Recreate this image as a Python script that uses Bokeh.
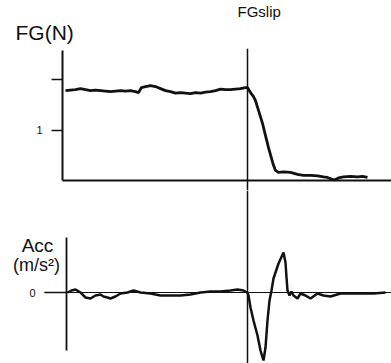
from bokeh.plotting import figure
from bokeh.models import Range1d, LinearAxis, FixedTicker, Span, Label, Title
from bokeh.layouts import column
from bokeh.embed import file_html
from bokeh.resources import INLINE

# ---- data (time in ms relative to slip onset) ----
fg_t = [-910, -885, -860, -835, -810, -785, -760, -735, -710, -685, -660, -635, -610, -585,
        -560, -545, -530, -510, -485, -460, -435, -410, -385, -360, -335, -310, -285, -260,
        -235, -210, -185, -160, -135, -110, -85, -60, -35, -10, 0, 15, 30, 40, 55, 75, 90,
        105, 120, 130, 140, 155, 180, 215, 250, 280, 315, 350, 380, 400, 420, 435, 455,
        480, 515, 550, 575, 600]
fg_v = [1.78, 1.79, 1.80, 1.82, 1.80, 1.78, 1.79, 1.78, 1.77, 1.76, 1.77, 1.78, 1.77, 1.78,
        1.76, 1.74, 1.84, 1.86, 1.88, 1.86, 1.82, 1.78, 1.76, 1.73, 1.74, 1.73, 1.72, 1.74,
        1.73, 1.75, 1.76, 1.78, 1.81, 1.80, 1.80, 1.81, 1.82, 1.84, 1.84, 1.74, 1.66, 1.58,
        1.39, 1.13, 0.89, 0.65, 0.44, 0.30, 0.20, 0.16, 0.17, 0.16, 0.12, 0.10, 0.10, 0.09,
        0.07, 0.06, 0.03, 0.01, 0.05, 0.07, 0.08, 0.07, 0.08, 0.06]

acc_t = [-900, -880, -860, -835, -810, -785, -760, -735, -720, -700, -685, -660, -635, -600,
         -570, -535, -485, -435, -385, -335, -285, -235, -185, -135, -85, -50, -20, 0, 5, 15,
         30, 50, 65, 80, 90, 100, 110, 120, 130, 155, 180, 190, 195, 200, 210, 220, 230, 250,
         265, 290, 315, 350, 380, 415, 465, 515, 565, 630, 690]
acc_v = [0.0, 0.2, 0.3, 0.0, -0.5, -0.6, -0.3, -0.2, -0.4, -0.5, -0.6, -0.4, -0.1, 0.0,
         0.2, 0.0, -0.1, -0.3, -0.3, -0.3, -0.2, 0.0, 0.1, 0.1, 0.2, 0.3, 0.2, 0.0, -0.3, -1.5,
         -2.8, -4.3, -5.8, -6.8, -5.5, -2.8, -0.8, 0.2, 1.4, 2.9, 4.0, 3.0, 1.5, 0.2, -0.3, 0.1,
         -0.3, -0.6, -0.1, -0.3, -0.6, -0.1, -0.3, -0.4, -0.1, -0.1, -0.1, -0.1, 0.0]

fg_ticks = [1, 2]
fg_tick_labels = {1: "1"}
acc_ticks = [0]
acc_tick_labels = {0: "0"}

FONT = "Liberation Sans"
INK = "#111111"

x_shared = Range1d(-1235, 720)


def base_fig(h, y0, y1, top_border):
    p = figure(width=391, height=h, x_range=x_shared, y_range=Range1d(y0, y1),
               output_backend="svg", toolbar_location=None, title=None,
               x_axis_location=None, y_axis_location=None,
               min_border_left=0, min_border_right=0,
               min_border_top=top_border, min_border_bottom=0)
    p.outline_line_color = None
    p.background_fill_color = "white"
    p.border_fill_color = "white"
    p.xgrid.visible = False
    p.ygrid.visible = False
    return p


def inner_y_axis(ticks, loc, bounds, tick_len, width):
    # y axis drawn at a fixed time inside the frame, ticks pointing left
    ax = LinearAxis(ticker=FixedTicker(ticks=ticks), bounds=bounds, fixed_location=loc)
    ax.axis_line_width = width
    ax.axis_line_color = INK
    ax.major_tick_out = 0
    ax.major_tick_in = tick_len
    ax.major_tick_line_width = 1.3
    ax.major_tick_line_color = INK
    ax.minor_tick_line_color = None
    ax.major_label_standoff = 0
    ax.major_label_text_font_size = "1px"
    ax.major_label_text_color = None
    return ax


def baseline_axis(bounds, width):
    ax = LinearAxis(ticker=FixedTicker(ticks=[]), fixed_location=0, bounds=bounds)
    ax.axis_line_width = width
    ax.axis_line_color = INK
    ax.major_tick_line_color = None
    ax.minor_tick_line_color = None
    ax.major_label_text_color = None
    return ax


# ---------------- top panel: grip force ----------------
top = base_fig(190, -0.198, 2.614, 48)
top.add_layout(inner_y_axis(fg_ticks, -925, (0, 2.57), 11, 2), "right")
top.add_layout(baseline_axis((-925, 720), 2), "below")
top.add_layout(Span(location=0, dimension="height", line_color=INK, line_width=1.5))
top.line(fg_t, fg_v, line_color=INK, line_width=2.8)

for v, s in fg_tick_labels.items():
    top.add_layout(Label(x=-1040, y=v, text=s, text_font=FONT, text_font_size="11px",
                         text_color=INK, text_baseline="middle", text_align="center"))

top.add_layout(Title(text="FG(N)", align="left", offset=15, standoff=10,
                     text_font=FONT, text_font_size="21px", text_font_style="normal",
                     text_color=INK), "above")
top.add_layout(Title(text="FGslip", align="left", offset=237, standoff=-13,
                     text_font=FONT, text_font_size="15px", text_font_style="normal",
                     text_color=INK), "above")

# ---------------- bottom panel: acceleration ----------------
bot = base_fig(173, -7.1, 10.2, 0)
bot.add_layout(inner_y_axis(acc_ticks, -905, (-5.8, 5.5), 22, 1.8), "right")
bot.add_layout(baseline_axis((-1015, 720), 1), "below")
bot.add_layout(Span(location=0, dimension="height", line_color=INK, line_width=1.5))
bot.line(acc_t, acc_v, line_color=INK, line_width=2.5)

for v, s in acc_tick_labels.items():
    bot.add_layout(Label(x=-1075, y=v, text=s, text_font=FONT, text_font_size="11px",
                         text_color=INK, text_baseline="middle", text_align="center"))
bot.add_layout(Label(x=-1050, y=4.7, text="Acc", text_font=FONT, text_font_size="19px",
                     text_color=INK, text_baseline="alphabetic", text_align="center"))
bot.add_layout(Label(x=-1055, y=2.8, text="(m/s²)", text_font=FONT, text_font_size="18px",
                     text_color=INK, text_baseline="alphabetic", text_align="center"))

layout = column(top, bot, spacing=0)
open("out.html", "w").write(file_html(layout, INLINE))
